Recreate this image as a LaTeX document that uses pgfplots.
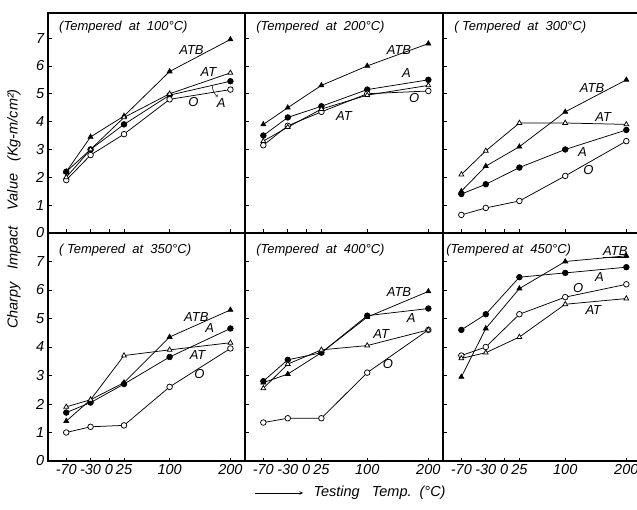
\documentclass[border=0pt]{standalone}
\usepackage{fontspec}
\setmainfont{Liberation Sans}
\usepackage{pgfplots}
\usepackage{pgfplotstable}
\pgfplotsset{compat=1.18}

% Charpy impact value vs testing temp., columns: steel condition
\pgfplotstableread{
T    ATB   AT    A     O
-70  2.2   2.0   2.2   1.9
-30  3.45  3.0   3.0   2.8
25   4.2   4.15  3.9   3.55
100  5.8   5.0   4.95  4.8
200  6.95  5.75  5.45  5.15
}\tA
\pgfplotstableread{
T    ATB   AT    A     O
-70  3.9   3.3   3.5   3.15
-30  4.5   3.8   4.15  3.85
25   5.3   4.45  4.55  4.35
100  6.0   4.95  5.15  5.0
200  6.8   5.3   5.5   5.1
}\tB
\pgfplotstableread{
T    ATB   AT    A     O
-70  1.5   2.1   1.4   0.65
-30  2.4   2.95  1.75  0.9
25   3.1   3.95  2.35  1.15
100  4.35  3.95  3.0   2.05
200  5.5   3.9   3.7   3.3
}\tC
\pgfplotstableread{
T    ATB   AT    A     O
-70  1.4   1.9   1.7   1.0
-30  2.15  2.15  2.05  1.2
25   2.75  3.7   2.7   1.25
100  4.35  3.9   3.65  2.6
200  5.3   4.15  4.65  3.95
}\tD
\pgfplotstableread{
T    ATB   AT    A     O
-70  2.75  2.55  2.8   1.35
-30  3.05  3.4   3.55  1.5
25   3.8   3.9   3.8   1.5
100  5.05  4.05  5.1   3.1
200  5.95  4.6   5.35  4.6
}\tE
\pgfplotstableread{
T    ATB   AT    A     O
-70  2.95  3.6   4.6   3.7
-30  4.65  3.8   5.15  4.0
25   6.05  4.35  6.45  5.15
100  7.0   5.5   6.6   5.75
200  7.2   5.7   6.8   6.2
}\tF

\newcommand\fs{\fontsize{13}{15}\selectfont\itshape}
\newcommand\fsb{\fontsize{14.5}{16}\selectfont\itshape}

\pgfplotsset{
  panel/.style={scale only axis, anchor=south west, at={(0,0)},
    xmin=-100, xmax=224, ymin=0,
    xtick={-70,-30,0,25,100,200}, ytick={0,1,2,3,4,5,6,7},
    xtick pos=bottom, ytick pos=left, tick align=inside,
    major tick length=3.5pt, tick style={black, line width=0.6pt},
    axis line style={line width=1.1pt},
    xticklabels={}, yticklabels={},
    tick label style={font=\fsb},
    /pgf/number format/assume math mode=true,
    clip=false},
  ptop/.style={panel, width=#1, height=220pt, ymax=7.9},
  pbot/.style={panel, width=#1, height=228pt, ymax=8,
    xticklabels={{-70},{-30},0,25,100,200}},
  ser/.style={black, line width=0.75pt, mark size=2.8pt, mark options={solid}},
  atb/.style={ser, mark=triangle*, mark options={fill=black}},
  at/.style={ser, mark=triangle*, mark options={fill=white}},
  aa/.style={ser, mark=*, mark options={fill=black}},
  oo/.style={ser, mark=*, mark options={fill=white}},
}
\tikzset{lab/.style={font=\fs, inner sep=1pt}}

\newcommand\series[1]{%
  \addplot[atb] table[x=T, y=ATB] {#1};
  \addplot[aa]  table[x=T, y=A]   {#1};
  \addplot[oo]  table[x=T, y=O]   {#1};
  \addplot[at]  table[x=T, y=AT]  {#1};
}

\begin{document}
\begin{tikzpicture}
\useasboundingbox (0,0) rectangle (637pt,509pt);

% top row
\begin{scope}[xshift=48pt, yshift=276pt]
\begin{axis}[ptop=197pt, yticklabels={0,1,2,3,4,5,6,7}]
  \series{\tA}
  \node[lab, anchor=west] at (rel axis cs:0.05,0.935) {(Tempered\ \ at\ \ 100°C)};
  \node[lab] at (axis cs:136,6.58) {ATB};
  \node[lab] at (axis cs:164,5.79) {AT};
  \node[lab] at (axis cs:139,4.72) {O};
  \node[lab] at (axis cs:185,4.65) {A};
  \draw[->, line width=0.5pt] (axis cs:170,5.3) to[bend right=20] (axis cs:179,4.88);
\end{axis}
\end{scope}
\begin{scope}[xshift=245pt, yshift=276pt]
\begin{axis}[ptop=198pt]
  \series{\tB}
  \node[lab, anchor=west] at (rel axis cs:0.05,0.935) {(Tempered\ \ at\ \ 200°C)};
  \node[lab] at (axis cs:152,6.58) {ATB};
  \node[lab] at (axis cs:164,5.76) {A};
  \node[lab] at (axis cs:177,4.86) {O};
  \node[lab] at (axis cs:62,4.2) {AT};
\end{axis}
\end{scope}
\begin{scope}[xshift=443pt, yshift=276pt]
\begin{axis}[ptop=198pt]
  \series{\tC}
  \node[lab, anchor=west] at (rel axis cs:0.05,0.935) {(\ Tempered\ \ at\ \ 300°C)};
  \node[lab] at (axis cs:144,5.22) {ATB};
  \node[lab] at (axis cs:162,4.17) {AT};
  \node[lab] at (axis cs:128,2.91) {A};
  \node[lab] at (axis cs:138,2.27) {O};
\end{axis}
\end{scope}

% bottom row
\begin{scope}[xshift=48pt, yshift=48pt]
\begin{axis}[pbot=197pt, yticklabels={0,1,2,3,4,5,6,7}]
  \series{\tD}
  \node[lab, anchor=west] at (rel axis cs:0.05,0.925) {(\ Tempered\ \ at\ \ 350°C)};
  \node[lab] at (axis cs:144,5.05) {ATB};
  \node[lab] at (axis cs:166,4.67) {A};
  \node[lab] at (axis cs:146,3.72) {AT};
  \node[lab] at (axis cs:149,3.05) {O};
\end{axis}
\end{scope}
\begin{scope}[xshift=245pt, yshift=48pt]
\begin{axis}[pbot=198pt]
  \series{\tE}
  \node[lab, anchor=west] at (rel axis cs:0.05,0.925) {(Tempered\ \ at\ \ 400°C)};
  \node[lab] at (axis cs:152,5.93) {ATB};
  \node[lab] at (axis cs:172,5.02) {A};
  \node[lab] at (axis cs:123,4.46) {AT};
  \node[lab] at (axis cs:134,3.40) {O};
\end{axis}
\end{scope}
\begin{scope}[xshift=443pt, yshift=48pt]
\begin{axis}[pbot=198pt]
  \series{\tF}
  \node[lab, anchor=west] at (rel axis cs:0.01,0.925) {(Tempered\ at\ \ 450°C)};
  \node[lab] at (axis cs:182,7.33) {\underline{ATB}};
  \node[lab] at (axis cs:156,6.46) {A};
  \node[lab] at (axis cs:121,6.07) {O};
  \node[lab] at (axis cs:146,5.30) {AT};
\end{axis}
\end{scope}

% axis titles
\node[font=\fsb, rotate=90] at (14pt,300pt) {Charpy\ \ \ Impact\ \ \ \ Value\ \ \ (Kg-m/cm²)};
\draw[-stealth, line width=0.6pt] (255pt,16pt) -- (303pt,16pt);
\node[font=\fsb, anchor=west] at (310pt,16pt) {Testing\ \ \ Temp.\ \ (°C)};
\end{tikzpicture}
\end{document}
